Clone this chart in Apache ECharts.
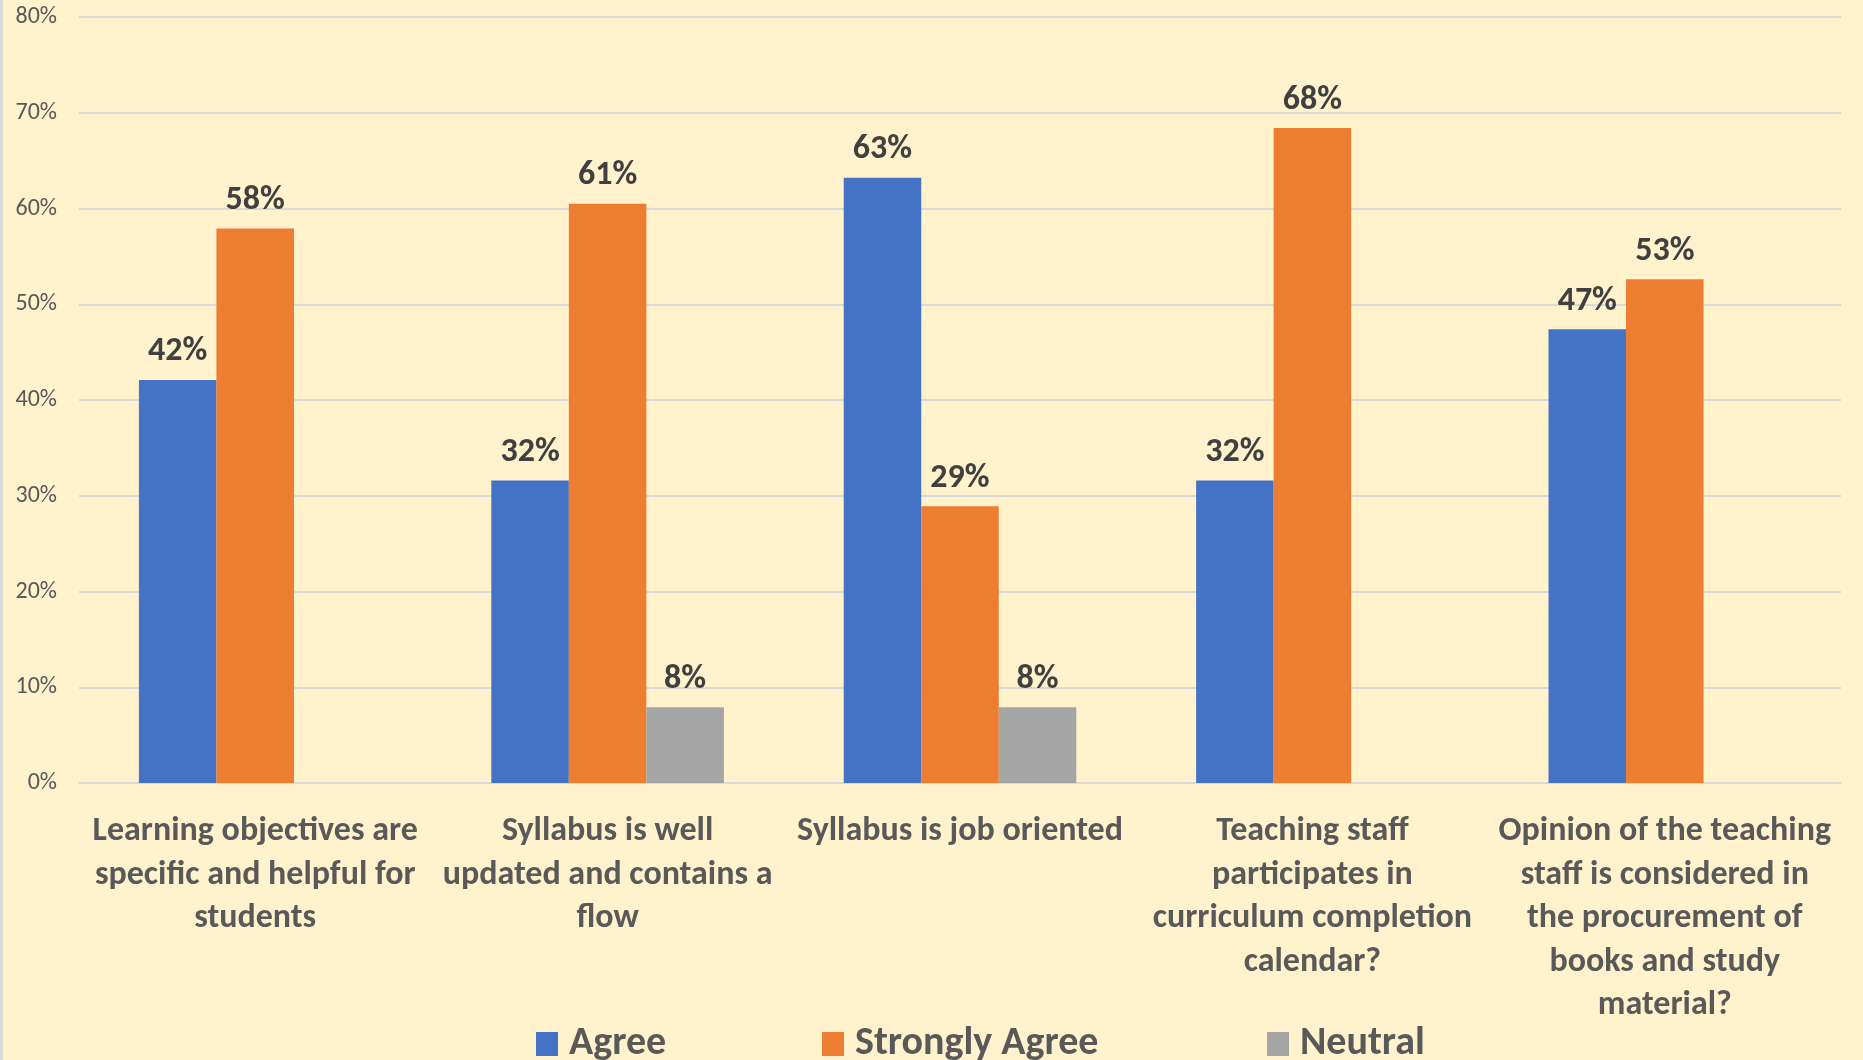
<!DOCTYPE html>
<html>
<head>
<meta charset="utf-8">
<script src="https://cdn.jsdelivr.net/npm/echarts@6/dist/echarts.min.js"></script>
<style>
html,body{margin:0;padding:0;background:#FFF2CC;}
#c{width:1863px;height:1060px;}
</style>
</head>
<body>
<div id="c"></div>
<script>
const categories = [
  "Learning objectives are\nspecific and helpful for\nstudents",
  "Syllabus is well\nupdated and contains a\nflow",
  "Syllabus is job oriented",
  "Teaching staff\nparticipates in\ncurriculum completion\ncalendar?",
  "Opinion of the teaching\nstaff is considered in\nthe procurement of\nbooks and study\nmaterial?"
];
const seriesNames = ["Agree", "Strongly Agree", "Neutral"];
const agree = [42.1, 31.6, 63.2, 31.6, 47.4];
const stronglyAgree = [57.9, 60.5, 28.9, 68.4, 52.6];
const neutral = [null, 7.9, 7.9, null, null];
const colors = ["#4472C4", "#ED7D31", "#A5A5A5"];

const FONT = "Calibri, Carlito, Lato, sans-serif";
const chart = echarts.init(document.getElementById('c'), null, {renderer: 'canvas'});

const labelCfg = {
  show: true,
  position: 'top',
  distance: 11,
  fontFamily: FONT,
  fontWeight: 'bold',
  fontSize: 34,
  color: '#404040',
  formatter: p => Math.round(p.value) + '%'
};

function legendAt(name, left) {
  return {
    data: [name],
    left: left,
    top: 1019,
    itemWidth: 22,
    itemHeight: 24,
    icon: 'rect',
    selectedMode: false,
    textStyle: {fontFamily: FONT, fontWeight: 'bold', fontSize: 40, color: '#595959', padding: [0, 0, 0, 6]}
  };
}

chart.setOption({
  backgroundColor: '#FFF2CC',
  animation: false,
  color: colors,
  grid: {left: 79, right: 22, top: 17, bottom: 277, containLabel: false},
  legend: [legendAt(seriesNames[0], 531), legendAt(seriesNames[1], 817), legendAt(seriesNames[2], 1262)],
  xAxis: {
    type: 'category',
    data: categories,
    axisTick: {show: false},
    axisLine: {lineStyle: {color: '#D9D9D9', width: 2}},
    axisLabel: {
      interval: 0,
      margin: 27,
      fontFamily: FONT,
      fontWeight: 'bold',
      fontSize: 34,
      lineHeight: 43.5,
      color: '#595959',
      align: 'center'
    }
  },
  yAxis: {
    type: 'value',
    min: 0,
    max: 80,
    interval: 10,
    axisLine: {show: false},
    axisTick: {show: false},
    splitLine: {lineStyle: {color: '#D9D9D9', width: 2}},
    axisLabel: {formatter: '{value}%', fontFamily: FONT, fontSize: 24, color: '#595959', margin: 22}
  },
  series: [
    {name: seriesNames[0], type: 'bar', data: agree, barGap: '0%', barCategoryGap: '34%', label: labelCfg},
    {name: seriesNames[1], type: 'bar', data: stronglyAgree, barGap: '0%', barCategoryGap: '34%', label: labelCfg},
    {name: seriesNames[2], type: 'bar', data: neutral, barGap: '0%', barCategoryGap: '34%', label: labelCfg}
  ],
  graphic: [{
    type: 'line',
    shape: {x1: 1.5, y1: 0, x2: 1.5, y2: 1060},
    style: {stroke: '#D9D9D9', lineWidth: 3}
  }]
});
</script>
</body>
</html>
